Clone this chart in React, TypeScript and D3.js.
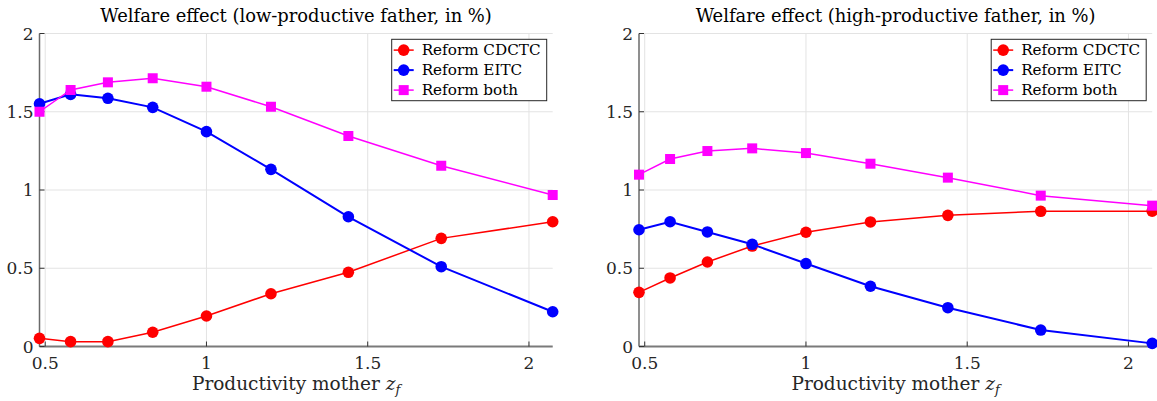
import React, { useEffect, useRef } from "react";
import * as d3 from "d3";

// productivity grid of the mother (1.2^k, k = -4..4)
const zf = [0.4823, 0.5787, 0.6944, 0.8333, 1, 1.2, 1.44, 1.728, 2.0736];

// low-productive father
const lowCdctc = [0.052, 0.031, 0.031, 0.091, 0.195, 0.337, 0.474, 0.691, 0.797];
const lowEitc = [1.551, 1.611, 1.586, 1.528, 1.373, 1.132, 0.829, 0.51, 0.222];
const lowBoth = [1.5, 1.639, 1.688, 1.714, 1.66, 1.532, 1.345, 1.155, 0.968];

// high-productive father
const highCdctc = [0.346, 0.438, 0.54, 0.642, 0.73, 0.796, 0.838, 0.864, 0.865];
const highEitc = [0.746, 0.797, 0.732, 0.653, 0.53, 0.385, 0.248, 0.105, 0.02];
const highBoth = [1.098, 1.198, 1.249, 1.266, 1.236, 1.168, 1.079, 0.964, 0.9];

const xTicks = [0.5, 1, 1.5, 2];
const yTicks = [0, 0.5, 1, 1.5, 2];
const seriesNames = ["Reform CDCTC", "Reform EITC", "Reform both"];
const seriesColors = ["#ff0000", "#0000ff", "#ff00ff"];
const seriesWidths = [1.5, 2, 1.5];
const titles = [
  "Welfare effect (low-productive father, in %)",
  "Welfare effect (high-productive father, in %)",
];

const FONT = '"DejaVu Serif", "Liberation Serif", serif';

function drawPanel(
  root: d3.Selection<SVGGElement, unknown, null, undefined>,
  left: number,
  title: string,
  series: number[][]
) {
  const top = 33.5;
  const bottom = 346.5;
  const width = 513.2;

  const x = d3.scaleLinear().domain([zf[0], zf[zf.length - 1]]).range([left, left + width]);
  const y = d3.scaleLinear().domain([0, 2]).range([bottom, top]);

  const g = root.append("g").style("font-family", FONT);

  // grid
  g.selectAll(".gx")
    .data(xTicks)
    .enter()
    .append("line")
    .attr("x1", (d) => x(d))
    .attr("x2", (d) => x(d))
    .attr("y1", top)
    .attr("y2", bottom)
    .attr("stroke", "#e3e3e3")
    .attr("stroke-width", 1);
  g.selectAll(".gy")
    .data(yTicks)
    .enter()
    .append("line")
    .attr("x1", left)
    .attr("x2", left + width)
    .attr("y1", (d) => y(d))
    .attr("y2", (d) => y(d))
    .attr("stroke", "#e3e3e3")
    .attr("stroke-width", 1);

  // axes
  g.append("line")
    .attr("x1", left)
    .attr("x2", left + width)
    .attr("y1", bottom)
    .attr("y2", bottom)
    .attr("stroke", "#7a7a7a")
    .attr("stroke-width", 1.8);
  g.append("line")
    .attr("x1", left)
    .attr("x2", left)
    .attr("y1", top)
    .attr("y2", bottom)
    .attr("stroke", "#6a6a6a")
    .attr("stroke-width", 1.5);

  // ticks
  g.selectAll(".tx")
    .data(xTicks)
    .enter()
    .append("line")
    .attr("x1", (d) => x(d))
    .attr("x2", (d) => x(d))
    .attr("y1", bottom)
    .attr("y2", bottom - 5)
    .attr("stroke", "#333")
    .attr("stroke-width", 1);
  g.selectAll(".ty")
    .data(yTicks)
    .enter()
    .append("line")
    .attr("x1", left)
    .attr("x2", left + 5)
    .attr("y1", (d) => y(d))
    .attr("y2", (d) => y(d))
    .attr("stroke", "#333")
    .attr("stroke-width", 1);

  // tick labels
  g.selectAll(".lx")
    .data(xTicks)
    .enter()
    .append("text")
    .attr("x", (d) => x(d))
    .attr("y", 369)
    .attr("text-anchor", "middle")
    .style("font-size", "17px")
    .attr("fill", "#262626")
    .text((d) => String(d));
  g.selectAll(".ly")
    .data(yTicks)
    .enter()
    .append("text")
    .attr("x", left - 6)
    .attr("y", (d) => y(d) + 6)
    .attr("text-anchor", "end")
    .style("font-size", "17px")
    .attr("fill", "#262626")
    .text((d) => String(d));

  // title
  g.append("text")
    .attr("x", left + width / 2)
    .attr("y", 22)
    .attr("text-anchor", "middle")
    .style("font-size", "17.9px")
    .attr("fill", "#000")
    .text(title);

  // x label
  const xl = g
    .append("text")
    .attr("x", left + width / 2)
    .attr("y", 390)
    .attr("text-anchor", "middle")
    .style("font-size", "18.5px")
    .attr("fill", "#262626");
  xl.append("tspan").text("Productivity mother ");
  xl.append("tspan").style("font-style", "italic").text("z");
  xl.append("tspan")
    .style("font-style", "italic")
    .style("font-size", "13px")
    .attr("dy", 4)
    .text("f");

  // series
  const line = d3
    .line<number>()
    .x((_, i) => x(zf[i]))
    .y((d) => y(d));

  series.forEach((vals, s) => {
    g.append("path")
      .attr("d", line(vals) as string)
      .attr("fill", "none")
      .attr("stroke", seriesColors[s])
      .attr("stroke-width", seriesWidths[s]);
    if (s < 2) {
      g.selectAll(null)
        .data(vals)
        .enter()
        .append("circle")
        .attr("cx", (_, i) => x(zf[i]))
        .attr("cy", (d) => y(d))
        .attr("r", 5.8)
        .attr("fill", seriesColors[s]);
    } else {
      g.selectAll(null)
        .data(vals)
        .enter()
        .append("rect")
        .attr("x", (_, i) => x(zf[i]) - 5)
        .attr("y", (d) => y(d) - 5)
        .attr("width", 10)
        .attr("height", 10)
        .attr("fill", seriesColors[s]);
    }
  });

  // legend
  const lx = left + 352.2;
  const ly = 39.3;
  const lg = g.append("g");
  lg.append("rect")
    .attr("x", lx)
    .attr("y", ly)
    .attr("width", 155)
    .attr("height", 61.4)
    .attr("fill", "#fff")
    .attr("stroke", "#262626")
    .attr("stroke-width", 1);
  seriesNames.forEach((name, s) => {
    const cy = ly + 10.8 + s * 20;
    lg.append("line")
      .attr("x1", lx + 2)
      .attr("x2", lx + 22)
      .attr("y1", cy)
      .attr("y2", cy)
      .attr("stroke", seriesColors[s])
      .attr("stroke-width", seriesWidths[s]);
    if (s < 2) {
      lg.append("circle").attr("cx", lx + 12).attr("cy", cy).attr("r", 5.8).attr("fill", seriesColors[s]);
    } else {
      lg.append("rect")
        .attr("x", lx + 7)
        .attr("y", cy - 5)
        .attr("width", 10)
        .attr("height", 10)
        .attr("fill", seriesColors[s]);
    }
    lg.append("text")
      .attr("x", lx + 30)
      .attr("y", cy + 5.2)
      .style("font-size", "15.2px")
      .attr("fill", "#000")
      .text(name);
  });
}

export default function App() {
  const ref = useRef<SVGSVGElement | null>(null);

  useEffect(() => {
    const svg = d3.select(ref.current);
    svg.selectAll("*").remove();
    const root = svg.append("g") as unknown as d3.Selection<SVGGElement, unknown, null, undefined>;
    drawPanel(root, 39.5, titles[0], [lowCdctc, lowEitc, lowBoth]);
    drawPanel(root, 639, titles[1], [highCdctc, highEitc, highBoth]);
  }, []);

  return (
    <svg
      ref={ref}
      width={1157}
      height={401}
      style={{ position: "absolute", left: 0, top: 0, background: "#fff" }}
    />
  );
}
